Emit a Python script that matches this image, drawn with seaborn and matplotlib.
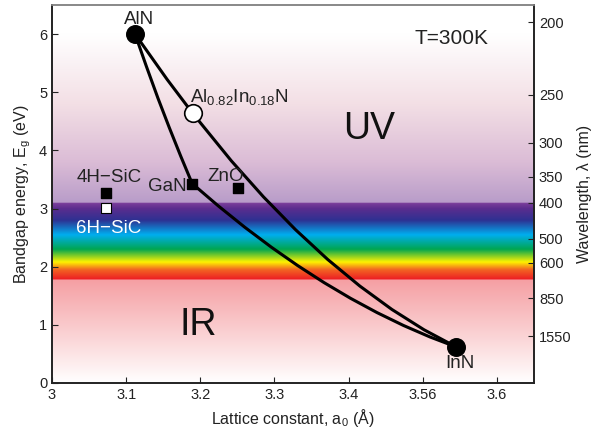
import numpy as np
import pandas as pd
import seaborn as sns
import matplotlib.pyplot as plt

# compound points (lattice constant in A, bandgap in eV)
compounds = ['AlN', 'InN', 'GaN', 'ZnO', '4H-SiC', '6H-SiC', 'AlInN']
lattice = [3.112, 3.545, 3.189, 3.251, 3.073, 3.073, 3.190]
bandgap = [6.00, 0.62, 3.43, 3.35, 3.26, 3.01, 4.64]

# alloy curves
algan_a = [3.112, 3.1274, 3.1428, 3.1582, 3.1736, 3.189]
algan_e = [6.00, 5.44, 4.90, 4.39, 3.90, 3.43]
ingan_a = [3.189, 3.2246, 3.2602, 3.2958, 3.3314, 3.367, 3.4026, 3.4382, 3.4738, 3.5094, 3.545]
ingan_e = [3.43, 3.041, 2.676, 2.335, 2.018, 1.725, 1.456, 1.211, 0.990, 0.793, 0.62]
alinn_a = [3.112, 3.1553, 3.190, 3.2419, 3.2852, 3.3285, 3.3718, 3.4151, 3.4584, 3.5017, 3.545]
alinn_e = [6.00, 5.219, 4.633, 3.819, 3.200, 2.635, 2.124, 1.667, 1.264, 0.915, 0.62]

# right axis wavelength ticks (nm)
wavelengths = [200, 250, 300, 350, 400, 500, 600, 850, 1550]
xticks = [3.0, 3.1, 3.2, 3.3, 3.4, 3.5, 3.6]
xticklabels = ['3', '3.1', '3.2', '3.3', '3.4', '3.56', '3.6']

# background colour stops (energy in eV, colour)
bg_energy = [0.0, 1.779, 1.78, 1.95, 2.08, 2.3, 2.55, 2.8, 3.0, 3.099, 3.10, 3.8, 4.8, 6.0, 6.5]
bg_colors = ['#ffffff', '#f59fa3', '#ed1c24', '#f26522', '#fff200', '#00a651', '#00aeef',
             '#2e3192', '#5b2d8e', '#7d3f9b', '#b89cc9', '#dbbcd6', '#f3dfe5', '#ffffff', '#ffffff']

sns.set_style('ticks')
plt.rcParams['font.family'] = ['Liberation Sans', 'DejaVu Sans']
plt.rcParams['mathtext.fontset'] = 'custom'
plt.rcParams['mathtext.rm'] = 'Liberation Sans'
plt.rcParams['mathtext.it'] = 'Liberation Sans'

fig = plt.figure(figsize=(5.91, 4.36), dpi=100)
ax = fig.add_axes([0.088, 0.1216, 0.8156, 0.8669])

# gradient background
grid = np.linspace(0, 6.5, 1300)
rgb = np.array([plt.matplotlib.colors.to_rgb(c) for c in bg_colors])
img = np.stack([np.interp(grid, bg_energy, rgb[:, i]) for i in range(3)], axis=-1)
img = img[:, None, :]
ax.imshow(img, origin='lower', aspect='auto', extent=[3.0, 3.65, 0, 6.5],
          interpolation='bilinear', zorder=0)

for xa, ye in [(algan_a, algan_e), (ingan_a, ingan_e), (alinn_a, alinn_e)]:
    sns.lineplot(x=xa, y=ye, ax=ax, color='black', lw=2.2, sort=False, zorder=3)

df = pd.DataFrame({'name': compounds, 'a': lattice, 'E': bandgap})
big = df[df['name'].isin(['AlN', 'InN'])]
ax.scatter(big['a'], big['E'], s=160, color='black', zorder=5)
aln = df[df['name'] == 'AlInN']
ax.scatter(aln['a'], aln['E'], s=160, color='white', edgecolor='black', lw=1.2, zorder=5)
sq = df[df['name'].isin(['GaN', 'ZnO', '4H-SiC'])]
ax.scatter(sq['a'], sq['E'], s=50, marker='s', color='black', zorder=5)
six = df[df['name'] == '6H-SiC']
ax.scatter(six['a'], six['E'], s=50, marker='s', color='white', edgecolor='black', lw=0.8, zorder=5)

tc = '#222222'
fs = 13.5
ax.text(3.118, 6.17, 'AlN', fontsize=fs, ha='center', va='baseline', color=tc)
ax.text(3.55, 0.26, 'InN', fontsize=fs, ha='center', va='baseline', color=tc)
ax.text(3.181, 3.31, 'GaN', fontsize=fs, ha='right', va='baseline', color=tc)
ax.text(3.234, 3.47, 'ZnO', fontsize=fs, ha='center', va='baseline', color=tc)
ax.text(3.077, 3.45, '4H\u2212SiC', fontsize=fs, ha='center', va='baseline', color=tc)
ax.text(3.077, 2.58, '6H\u2212SiC', fontsize=fs, ha='center', va='baseline', color='white')
ax.text(3.186, 4.83, r'Al$_{0.82}$In$_{0.18}$N', fontsize=fs, ha='left', va='baseline', color=tc)
ax.text(3.539, 5.83, 'T=300K', fontsize=15, ha='center', va='baseline', color=tc)
ax.text(3.427, 4.37, 'UV', fontsize=27, ha='center', va='center', color='#111111')
ax.text(3.197, 1.0, 'IR', fontsize=27, ha='center', va='center', color='#111111')

ax.set_xlim(3.0, 3.65)
ax.set_ylim(0, 6.5)
ax.set_xticks(xticks)
ax.set_xticklabels(xticklabels)
ax.set_yticks([0, 1, 2, 3, 4, 5, 6])
ax.tick_params(direction='in', labelsize=10.5, length=4, colors='#222222')
ax.set_xlabel('Lattice constant, a$_0$ (\u00c5)', fontsize=11.5, color=tc)
ax.set_ylabel('Bandgap energy, E$_g$ (eV)', fontsize=11.5, color=tc)

ax2 = ax.twinx()
ax2.set_ylim(0, 6.5)
ax2.set_yticks([1240 / w for w in wavelengths])
ax2.set_yticklabels([str(w) for w in wavelengths])
ax2.tick_params(direction='in', labelsize=10.5, length=4, colors='#222222')
ax2.set_ylabel('Wavelength, \u03bb (nm)', fontsize=11.5, color=tc)

for a in (ax, ax2):
    for s in ['left', 'bottom', 'right']:
        a.spines[s].set_color('#222222')
        a.spines[s].set_linewidth(1.2)
    a.spines['top'].set_color('#888888')
    a.spines['top'].set_linewidth(1.2)

fig.savefig('out.png', dpi=100)
